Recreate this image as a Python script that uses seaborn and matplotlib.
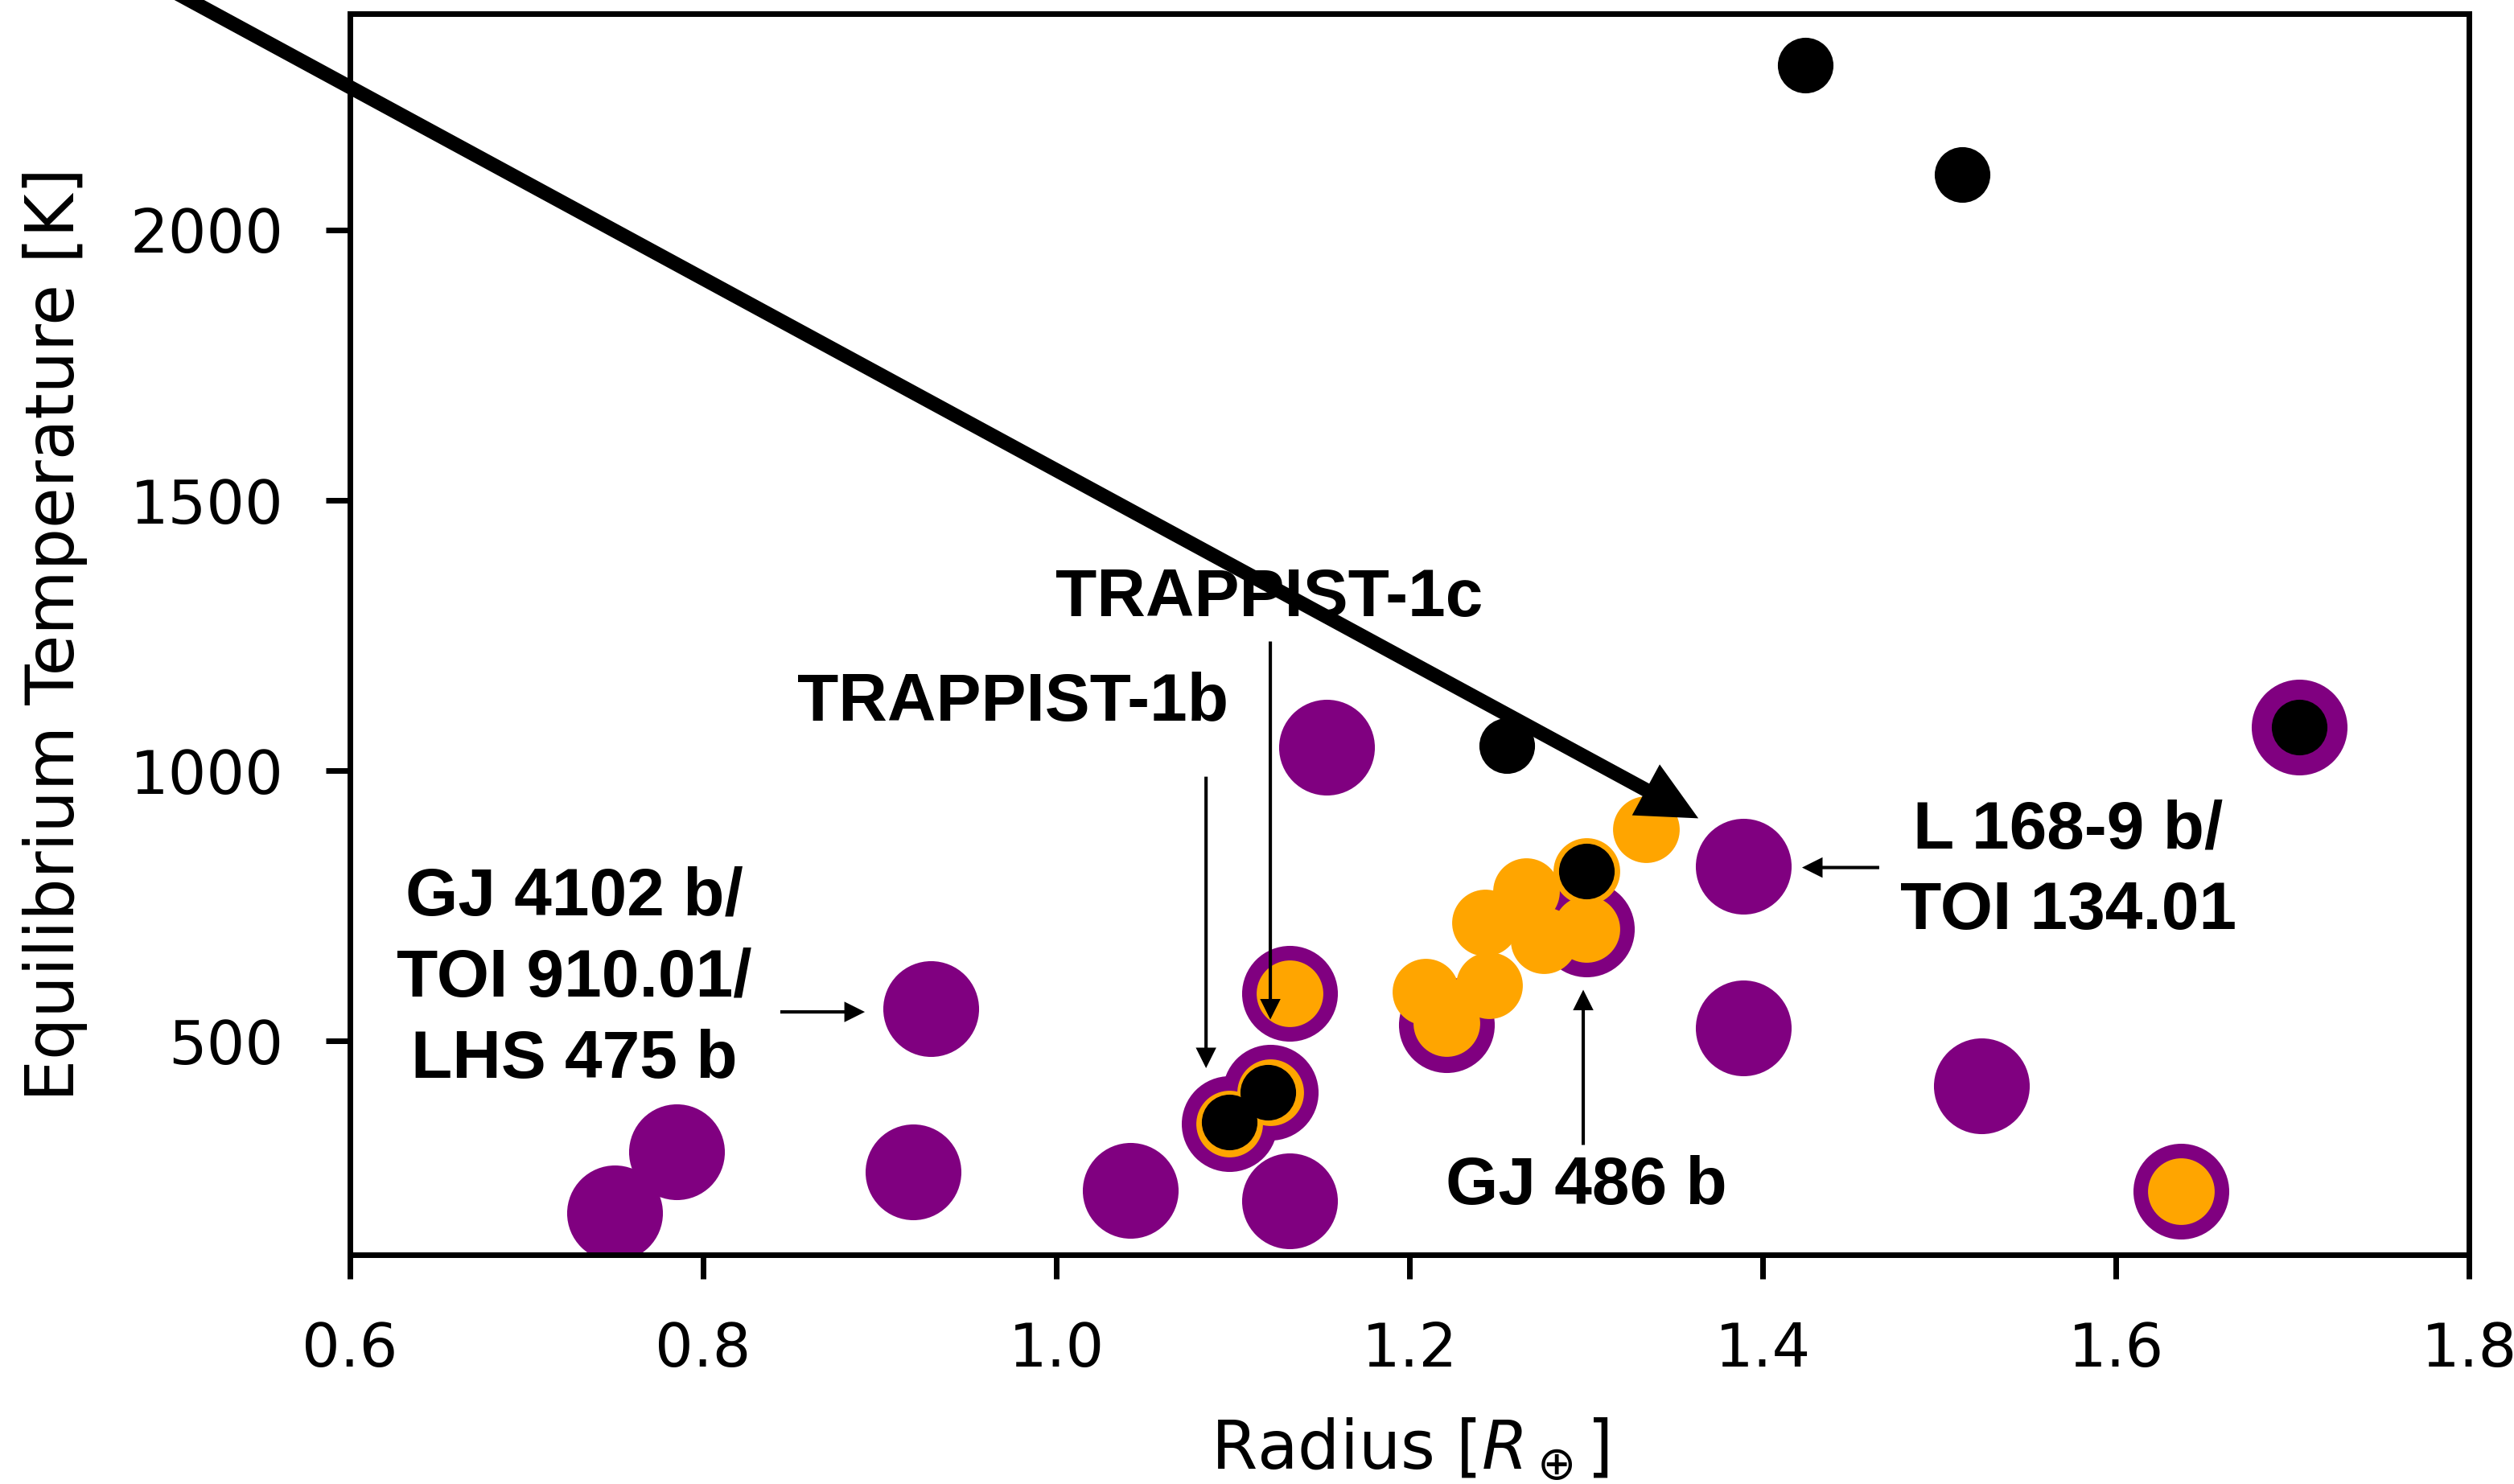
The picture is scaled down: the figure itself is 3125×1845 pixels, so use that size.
import matplotlib
matplotlib.use("Agg")
import matplotlib.pyplot as plt
import seaborn as sns

# planets of the first sample (big purple dots)
purple_radius = [0.750, 0.785, 0.919, 0.929, 1.042, 1.132, 1.153, 1.132, 1.098,
                 1.121, 1.221, 1.300, 1.389, 1.389, 1.524, 1.637, 1.704]
purple_teq = [182, 295, 258, 560, 224, 204, 1043, 589, 347,
              406, 531, 707, 823, 525, 418, 222, 1081]

# second sample (orange dots)
orange_radius = [1.132, 1.098, 1.121, 1.209, 1.221, 1.245, 1.243, 1.266, 1.276,
                 1.300, 1.300, 1.334, 1.637]
orange_teq = [589, 347, 406, 591, 533, 603, 719, 777, 687,
              707, 815, 892, 222]

# third sample (small black dots)
black_radius = [1.424, 1.513, 1.255, 1.704, 1.300, 1.098, 1.120]
black_teq = [2305, 2103, 1046, 1081, 815, 350, 406]

label_font = dict(family="Liberation Sans", weight="bold", fontsize=11.2)
thin_arrow = dict(facecolor="black", edgecolor="black", width=0.55,
                  headwidth=3.4, headlength=3.4, shrink=0, linewidth=0)

fig, ax = plt.subplots(figsize=(3125 / 540, 1845 / 540), dpi=540)
fig.subplots_adjust(left=0.1392, right=0.9821, bottom=0.1545, top=0.9908)

sns.scatterplot(x=purple_radius, y=purple_teq, color="purple", s=252,
                linewidth=0, legend=False, ax=ax, zorder=2)
sns.scatterplot(x=orange_radius, y=orange_teq, color="orange", s=122,
                linewidth=0, legend=False, ax=ax, zorder=3)
sns.scatterplot(x=black_radius, y=black_teq, color="black", s=85,
                linewidth=0, legend=False, ax=ax, zorder=4)

ax.set_xlim(0.6, 1.8)
ax.set_ylim(105, 2400)
ax.set_xlabel(r"Radius [$R_\oplus$]", fontsize=11, labelpad=6)
ax.set_ylabel("Equilibrium Temperature [K]", fontsize=11, labelpad=7)
ax.tick_params(labelsize=10, length=4, width=0.93, pad=7)
for sp in ax.spines.values():
    sp.set_linewidth(0.93)

# big arrow coming in from outside the axes
ax.annotate("", xy=(1.3636, 912), xytext=(0.447, 2535),
            arrowprops=dict(facecolor="black", edgecolor="black", width=2.35,
                            headwidth=9.6, headlength=9.9, shrink=0, linewidth=0),
            annotation_clip=False, zorder=5)

# labelled planets
ax.text(1.1208, 1318, "TRAPPIST-1c", ha="center", va="center", **label_font)
ax.annotate("", xy=(1.1212, 540), xytext=(1.1212, 1239), arrowprops=thin_arrow)

ax.text(0.9754, 1126, "TRAPPIST-1b", ha="center", va="center", **label_font)
ax.annotate("", xy=(1.0848, 450), xytext=(1.0848, 989), arrowprops=thin_arrow)

ax.text(0.727, 616, "GJ 4102 b/\nTOI 910.01/\nLHS 475 b", ha="center",
        va="center", multialignment="center", linespacing=1.38, **label_font)
ax.annotate("", xy=(0.8916, 554), xytext=(0.8437, 554), arrowprops=thin_arrow)

ax.text(1.5731, 815, "L 168-9 b/\nTOI 134.01", ha="center", va="center",
        multialignment="center", linespacing=1.36, **label_font)
ax.annotate("", xy=(1.4223, 821), xytext=(1.466, 821), arrowprops=thin_arrow)

ax.text(1.300, 232, "GJ 486 b", ha="center", va="center", **label_font)
ax.annotate("", xy=(1.2984, 595), xytext=(1.2984, 308), arrowprops=thin_arrow)

fig.savefig("out.png", dpi=540)
